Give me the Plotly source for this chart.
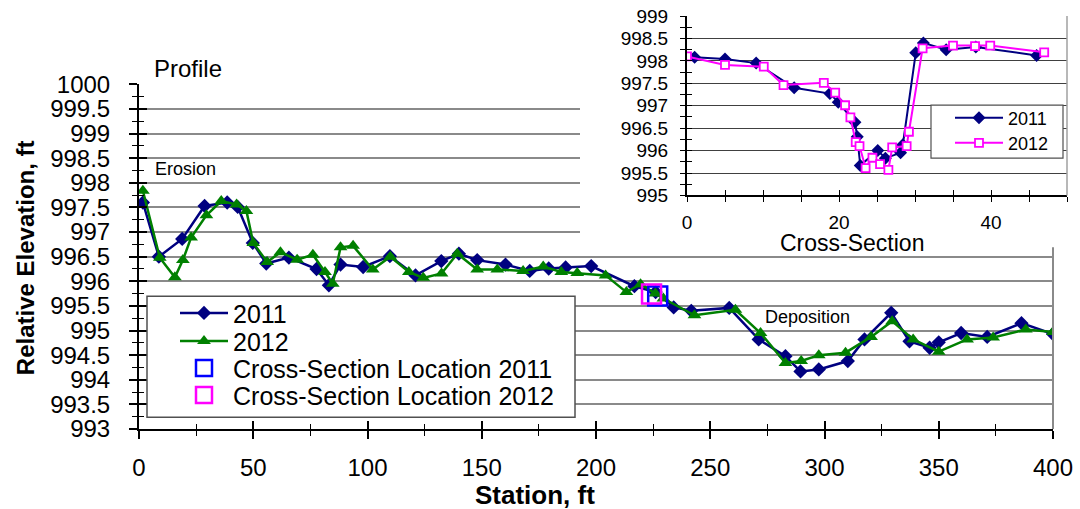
import plotly.graph_objects as go

# ---------------- data: longitudinal profile ----------------
station_2011 = [1.7, 8.7, 18.9, 28.7, 38.6, 43.2, 49.8, 55.7, 65.6, 77.7, 83.1, 88.2, 98.1, 109.8,
                121.0, 132.3, 140.0, 148.0, 160.4, 171.0, 179.3, 186.7, 197.9, 216.8, 226.1, 234.0,
                241.7, 258.3, 271.2, 282.9, 289.5, 297.5, 310.2, 317.5, 329.2, 337.2, 346.0, 350.0,
                359.8, 371.2, 386.2, 400.0]
elev_2011 = [997.60, 996.50, 996.86, 997.53, 997.60, 997.51, 996.78, 996.36, 996.48, 996.25, 995.92,
             996.34, 996.29, 996.51, 996.12, 996.41, 996.56, 996.43, 996.34, 996.21, 996.26, 996.28,
             996.31, 995.90, 995.78, 995.47, 995.40, 995.46, 994.82, 994.48, 994.17, 994.21, 994.38,
             994.82, 995.36, 994.78, 994.65, 994.76, 994.95, 994.87, 995.15, 994.93]

station_2012 = [1.7, 9.1, 15.7, 19.2, 22.8, 29.5, 36.0, 42.7, 47.0, 50.0, 56.1, 61.9, 69.2, 76.1,
                81.4, 84.8, 88.2, 93.7, 102.3, 110.0, 118.1, 124.4, 132.4, 139.3, 148.0, 156.8,
                168.1, 176.9, 184.8, 191.8, 204.2, 213.3, 219.5, 226.0, 229.5, 243.1, 261.0, 272.0,
                282.9, 289.8, 297.5, 309.2, 320.4, 329.6, 338.8, 350.0, 362.4, 373.8, 388.1, 400.0]
elev_2012 = [997.84, 996.48, 996.08, 996.43, 996.89, 997.34, 997.63, 997.56, 997.43, 996.78, 996.39,
             996.59, 996.44, 996.54, 996.19, 995.95, 996.69, 996.72, 996.24, 996.50, 996.19, 996.07,
             996.16, 996.56, 996.24, 996.24, 996.21, 996.30, 996.19, 996.17, 996.12, 995.78, 995.94,
             995.75, 995.65, 995.31, 995.42, 994.95, 994.34, 994.38, 994.50, 994.55, 994.87, 995.19,
             994.82, 994.57, 994.82, 994.86, 995.02, 994.97]

xs_loc_2011_station = [227.0]
xs_loc_2011_elev = [995.70]
xs_loc_2012_station = [224.3]
xs_loc_2012_elev = [995.74]

# ---------------- data: cross-section ----------------
cs_dist_2011 = [1.0, 5.0, 9.1, 14.1, 18.8, 19.9, 22.1, 22.4, 22.8, 25.1, 26.1, 28.1, 28.4, 30.1,
                31.1, 34.1, 38.0, 46.0]
cs_elev_2011 = [998.08, 998.04, 997.95, 997.40, 997.27, 997.08, 996.63, 996.31, 995.67, 996.00,
                995.83, 995.95, 996.13, 998.18, 998.40, 998.25, 998.31, 998.12]

cs_dist_2012 = [0.0, 5.0, 10.1, 12.7, 18.0, 19.5, 20.8, 21.5, 22.2, 22.7, 23.5, 24.4, 25.4, 26.5,
                27.0, 28.9, 29.2, 31.0, 35.0, 37.9, 39.9, 47.0]
cs_elev_2012 = [998.10, 997.91, 997.87, 997.46, 997.51, 997.29, 997.01, 996.74, 996.19, 996.10,
                995.61, 995.84, 995.70, 995.57, 996.07, 996.10, 996.42, 998.28, 998.34, 998.33,
                998.34, 998.19]

# ---------------- layout geometry (pixels) ----------------
W, H = 1080, 509
ML, MR, MT, MB = 139, 13, 16, 80.3
PW = W - ML - MR
PH = H - MT - MB


def fx(p):
    return (p - ML) / PW


def fy(p):
    return (H - MB - p) / PH


FONT = "Liberation Sans, Arial, sans-serif"
NAVY = "#000080"
GREEN = "#008000"
MAGENTA = "#FF00FF"
BLUE = "#0000FF"

fig = go.Figure()

# main profile traces (each legend entry in its own legend box so rows can be placed exactly)
fig.add_trace(go.Scatter(x=station_2011, y=elev_2011, name="2011", mode="lines+markers",
                         line=dict(color=NAVY, width=2.5),
                         marker=dict(symbol="diamond", size=11, color=NAVY),
                         xaxis="x", yaxis="y", legend="legend"))
fig.add_trace(go.Scatter(x=station_2012, y=elev_2012, name="2012", mode="lines+markers",
                         line=dict(color=GREEN, width=2.5),
                         marker=dict(symbol="triangle-up", size=12, color=GREEN),
                         xaxis="x", yaxis="y", legend="legend3"))
fig.add_trace(go.Scatter(x=xs_loc_2011_station, y=xs_loc_2011_elev, name="Cross-Section Location 2011",
                         mode="markers",
                         marker=dict(symbol="square-open", size=19, color=BLUE, line=dict(width=2.5)),
                         xaxis="x", yaxis="y", legend="legend4"))
fig.add_trace(go.Scatter(x=xs_loc_2012_station, y=xs_loc_2012_elev, name="Cross-Section Location 2012",
                         mode="markers",
                         marker=dict(symbol="square-open", size=19, color=MAGENTA, line=dict(width=2.5)),
                         xaxis="x", yaxis="y", legend="legend5"))

# blocker subplot (white background behind the inset)
fig.add_trace(go.Scatter(x=[], y=[], xaxis="x2", yaxis="y2", showlegend=False, hoverinfo="skip"))

# inset cross-section traces
fig.add_trace(go.Scatter(x=cs_dist_2011, y=cs_elev_2011, name="2011", mode="lines+markers",
                         line=dict(color=NAVY, width=2),
                         marker=dict(symbol="diamond", size=10, color=NAVY),
                         xaxis="x3", yaxis="y3", legend="legend2"))
fig.add_trace(go.Scatter(x=cs_dist_2012, y=cs_elev_2012, name="2012", mode="lines+markers",
                         line=dict(color=MAGENTA, width=2),
                         marker=dict(symbol="square", size=8, color="white",
                                     line=dict(color=MAGENTA, width=1.8)),
                         xaxis="x3", yaxis="y3", legend="legend6"))

# overlay axes for crossing (inside) ticks
fig.add_trace(go.Scatter(x=[], y=[], xaxis="x4", yaxis="y4", showlegend=False, hoverinfo="skip"))
fig.add_trace(go.Scatter(x=[], y=[], xaxis="x5", yaxis="y5", showlegend=False, hoverinfo="skip"))

main_xdom = [0, fx(1053)]
main_ydom = [0, fy(84.3)]
inset_xdom = [fx(687), 1]
inset_ydom = [fy(195.3), 1]

tickfont_main = dict(family=FONT, size=24, color="black")
tickfont_inset = dict(family=FONT, size=19, color="black")


def legend_at(xpx, ypx, size, itemwidth=48):
    # xpx is where the legend text should start
    return dict(x=fx(xpx - itemwidth - 10), y=fy(ypx), xanchor="left", yanchor="middle",
                itemwidth=itemwidth,
                bgcolor="rgba(0,0,0,0)", borderwidth=0, tracegroupgap=0,
                font=dict(family=FONT, size=size, color="black"))


fig.update_layout(
    width=W, height=H,
    margin=dict(l=ML, r=MR, t=MT, b=MB, pad=0, autoexpand=False),
    paper_bgcolor="white", plot_bgcolor="white",
    font=dict(family=FONT, color="black"),
    showlegend=True,
    xaxis=dict(domain=main_xdom, anchor="y", range=[0, 400], dtick=50, tick0=0, automargin=False,
               showgrid=False, zeroline=False, showline=True, linecolor="black", linewidth=2,
               ticks="outside", ticklen=8, tickwidth=1.5, tickcolor="black",
               minor=dict(dtick=25, ticks="outside", ticklen=5, tickwidth=1, tickcolor="black", showgrid=False),
               tickfont=tickfont_main, ticklabelstandoff=8),
    yaxis=dict(domain=main_ydom, anchor="x", range=[993, 1000], dtick=0.5, tick0=993, automargin=False,
               showgrid=True, gridcolor="#8a8a8a", gridwidth=2, zeroline=False,
               showline=True, linecolor="black", linewidth=2,
               ticks="outside", ticklen=8, tickwidth=1.5, tickcolor="black",
               minor=dict(dtick=0.25, ticks="outside", ticklen=5, tickwidth=1, tickcolor="black", showgrid=False),
               tickfont=tickfont_main, ticklabelstandoff=14),
    xaxis4=dict(overlaying="x", anchor="y4", range=[0, 400], dtick=50, tick0=0, showgrid=False,
                zeroline=False, showline=False, showticklabels=False, automargin=False,
                ticks="inside", ticklen=8, tickwidth=1.5, tickcolor="black",
                minor=dict(dtick=25, ticks="inside", ticklen=5, tickwidth=1, tickcolor="black")),
    yaxis4=dict(overlaying="y", anchor="x4", range=[993, 1000], dtick=0.5, tick0=993, showgrid=False,
                zeroline=False, showline=False, showticklabels=False, automargin=False,
                ticks="inside", ticklen=8, tickwidth=1.5, tickcolor="black",
                minor=dict(dtick=0.25, ticks="inside", ticklen=5, tickwidth=1, tickcolor="black")),
    xaxis2=dict(domain=[fx(580), 1], anchor="y2", range=[0, 1], visible=False),
    yaxis2=dict(domain=[fy(247), 1], anchor="x2", range=[0, 1], visible=False),
    xaxis3=dict(domain=inset_xdom, anchor="y3", range=[0, 50], dtick=20, tick0=0, automargin=False,
                showgrid=False, zeroline=False, showline=True, linecolor="black", linewidth=2,
                ticks="outside", ticklen=5, tickwidth=1.2, tickcolor="black",
                minor=dict(dtick=5, ticks="outside", ticklen=5, tickwidth=1.2, tickcolor="black", showgrid=False),
                tickfont=tickfont_inset, ticklabelstandoff=4),
    yaxis3=dict(domain=inset_ydom, anchor="x3", range=[995, 999], dtick=0.5, tick0=995, automargin=False,
                showgrid=True, gridcolor="#404040", gridwidth=1, zeroline=False,
                showline=True, linecolor="black", linewidth=2,
                ticks="outside", ticklen=5, tickwidth=1.2, tickcolor="black",
                minor=dict(dtick=0.25, ticks="outside", ticklen=5, tickwidth=1.2, tickcolor="black", showgrid=False),
                tickfont=tickfont_inset, ticklabelstandoff=8),
    xaxis5=dict(overlaying="x3", anchor="y5", range=[0, 50], dtick=20, tick0=0, showgrid=False,
                zeroline=False, showline=False, showticklabels=False, automargin=False,
                ticks="inside", ticklen=5, tickwidth=1.2, tickcolor="black",
                minor=dict(dtick=5, ticks="inside", ticklen=5, tickwidth=1.2, tickcolor="black")),
    yaxis5=dict(overlaying="y3", anchor="x5", range=[995, 999], dtick=0.5, tick0=995, showgrid=False,
                zeroline=False, showline=False, showticklabels=False, automargin=False,
                ticks="inside", ticklen=5, tickwidth=1.2, tickcolor="black",
                minor=dict(dtick=0.25, ticks="inside", ticklen=5, tickwidth=1.2, tickcolor="black")),
    legend=legend_at(233, 313, 25),
    legend3=legend_at(233, 341, 25),
    legend4=legend_at(233, 368, 25),
    legend5=legend_at(233, 395, 25),
    legend2=legend_at(1008, 118, 18),
    legend6=legend_at(1008, 143, 18),
)

# borders and legend boxes
fig.add_shape(type="line", xref="paper", yref="paper", x0=fx(1053), x1=fx(1053), y0=0, y1=fy(247),
              line=dict(color="#8a8a8a", width=2), layer="above")
fig.add_shape(type="line", xref="paper", yref="paper", x0=1, x1=1, y0=inset_ydom[0], y1=1,
              line=dict(color="#a0a0a0", width=1.5), layer="above")
fig.add_shape(type="rect", xref="paper", yref="paper", x0=fx(147), x1=fx(575), y0=fy(417), y1=fy(296),
              fillcolor="white", line=dict(color="#505050", width=1.5), layer="above")
fig.add_shape(type="rect", xref="paper", yref="paper", x0=fx(931), x1=fx(1063), y0=fy(158), y1=fy(105),
              fillcolor="white", line=dict(color="#505050", width=1.2), layer="above")

# text labels
ann = [
    dict(text="Profile", x=fx(152), y=fy(68), xanchor="left", yanchor="middle", size=24),
    dict(text="Erosion", x=fx(153), y=fy(169), xanchor="left", yanchor="middle", size=18),
    dict(text="Deposition", x=fx(763), y=fy(317), xanchor="left", yanchor="middle", size=18),
    dict(text="Cross-Section", x=fx(852), y=fy(243), xanchor="center", yanchor="middle", size=23),
    dict(text="<b>Station, ft</b>", x=fx(535), y=fy(495), xanchor="center", yanchor="middle", size=26),
    dict(text="<b>Relative Elevation, ft</b>", x=fx(25), y=fy(258), xanchor="center", yanchor="middle",
         textangle=-90, size=24),
]
for a in ann:
    size = a.pop("size")
    fig.add_annotation(xref="paper", yref="paper", showarrow=False,
                       font=dict(family=FONT, size=size, color="black"), **a)

fig.write_html("out.html", config={"displayModeBar": False},
               post_script="document.body.style.margin='0';document.body.style.overflow='hidden';")
